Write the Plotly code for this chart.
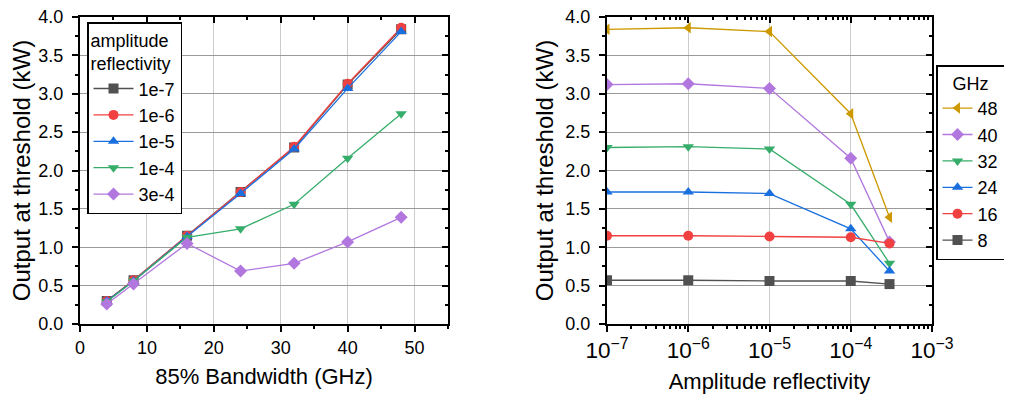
import plotly.graph_objects as go

# ---------------- data ----------------
bandwidth_ghz = [4, 8, 16, 24, 32, 40, 48]
reflectivity = [1e-7, 1e-6, 1e-5, 1e-4, 3e-4]
reflectivity_labels = ["1e-7", "1e-6", "1e-5", "1e-4", "3e-4"]

# output at threshold (kW) for each reflectivity vs bandwidth
out_r1e7 = [0.30, 0.57, 1.15, 1.72, 2.30, 3.12, 3.84]
out_r1e6 = [0.30, 0.57, 1.15, 1.72, 2.31, 3.13, 3.86]
out_r1e5 = [0.30, 0.56, 1.14, 1.70, 2.28, 3.07, 3.81]
out_r1e4 = [0.29, 0.56, 1.13, 1.24, 1.56, 2.16, 2.74]
out_r3e4 = [0.26, 0.52, 1.05, 0.69, 0.79, 1.07, 1.39]

left_series = [out_r1e7, out_r1e6, out_r1e5, out_r1e4, out_r3e4]
left_colors = ["#515151", "#F14040", "#1A6FDF", "#37AD6B", "#B177DE"]
left_symbols = ["square", "circle", "triangle-up", "triangle-down", "diamond"]

# right panel: one series per bandwidth (8..48 GHz), legend order 48 -> 8
right_ghz = [48, 40, 32, 24, 16, 8]
right_colors = ["#CC9900", "#B177DE", "#37AD6B", "#1A6FDF", "#F14040", "#515151"]
right_symbols = ["triangle-left", "diamond", "triangle-down", "triangle-up", "circle", "square"]

FONT = "Liberation Sans, Arial, sans-serif"
OFF = 8  # page body margin
W, H = 1012 - OFF, 397 - OFF


def px(x):
    return (x - OFF) / W


def py(y):
    return 1 - (y - OFF) / H


fig = go.Figure()

for lab, ys, col, sym in zip(reflectivity_labels, left_series, left_colors, left_symbols):
    fig.add_trace(go.Scatter(
        x=bandwidth_ghz, y=ys, mode="lines+markers", name=lab,
        line=dict(color=col, width=1.3),
        marker=dict(symbol=sym, size=10, color=col),
        xaxis="x", yaxis="y", legend="legend",
    ))

for g, col, sym in zip(right_ghz, right_colors, right_symbols):
    idx = bandwidth_ghz.index(g)
    ys = [s[idx] for s in left_series]
    fig.add_trace(go.Scatter(
        x=reflectivity, y=ys, mode="lines+markers", name=str(g),
        line=dict(color=col, width=1.3),
        marker=dict(symbol=sym, size=10, color=col),
        xaxis="x2", yaxis="y2", legend="legend2",
    ))

# dummy traces for mirror axes
fig.add_trace(go.Scatter(x=[None], y=[None], xaxis="x3", yaxis="y3", showlegend=False))
fig.add_trace(go.Scatter(x=[None], y=[None], xaxis="x4", yaxis="y4", showlegend=False))

dx1 = [px(80), px(448)]
dx2 = [px(607), px(932)]
dy = [py(324), py(17)]

tickfont = dict(family=FONT, size=18, color="black")
titlefont = dict(family=FONT, size=22, color="black")
ytitlefont = dict(family=FONT, size=24, color="black")
legfont = dict(family=FONT, size=18, color="black")

common_y = dict(
    domain=dy, range=[0, 4], dtick=0.5, tick0=0, tickformat=".1f",
    showline=True, linecolor="black", linewidth=2,
    ticks="outside", ticklen=6, tickwidth=2, tickcolor="black",
    minor=dict(ticks="outside", dtick=0.25, ticklen=3, tickwidth=1.5, tickcolor="black", showgrid=False),
    showgrid=True, gridcolor="#9a9a9a", gridwidth=1,
    zeroline=False, tickfont=tickfont, fixedrange=True,
    ticklabeloverflow="allow", ticklabelstandoff=5,
)

mirror_common = dict(
    showline=True, linecolor="black", linewidth=2,
    ticks="inside", ticklen=6, tickwidth=2, tickcolor="black",
    showticklabels=False, showgrid=False, zeroline=False,
)

fig.update_layout(
    width=W, height=H,
    margin=dict(l=0, r=0, t=0, b=0),
    paper_bgcolor="white", plot_bgcolor="white",
    font=dict(family=FONT, color="black"),
    xaxis=dict(
        domain=dx1, anchor="y", range=[0, 55], dtick=10, tick0=0,
        showline=True, linecolor="black", linewidth=2,
        ticks="outside", ticklen=6, tickwidth=2, tickcolor="black",
        minor=dict(ticks="outside", dtick=5, ticklen=3, tickwidth=1.5, tickcolor="black", showgrid=False),
        showgrid=True, gridcolor="#cccccc", gridwidth=1, zeroline=False,
        tickfont=tickfont, automargin=False, ticklabeloverflow="allow",
        title=dict(text="85% Bandwidth (GHz)", font=titlefont, standoff=12),
    ),
    yaxis=dict(anchor="x", automargin=False,
               title=dict(text="Output at threshold (kW)", font=ytitlefont, standoff=5),
               **common_y),
    xaxis2=dict(
        domain=dx2, anchor="y2", type="log", range=[-7, -3], dtick=1,
        exponentformat="power",
        showline=True, linecolor="black", linewidth=2,
        ticks="outside", ticklen=6, tickwidth=2, tickcolor="black",
        minor=dict(ticks="outside", dtick="D1", ticklen=3, tickwidth=1.5, tickcolor="black", showgrid=False),
        showgrid=True, gridcolor="#cccccc", gridwidth=1, zeroline=False,
        tickfont=tickfont, automargin=False, ticklabeloverflow="allow",
        title=dict(text="Amplitude reflectivity", font=titlefont, standoff=12),
    ),
    yaxis2=dict(anchor="x2", automargin=False,
                title=dict(text="Output at threshold (kW)", font=ytitlefont, standoff=5),
                **common_y),
    # mirror axes (top / right) with inward ticks
    xaxis3=dict(
        overlaying="x", anchor="y3", side="top", range=[0, 55], dtick=10, tick0=0,
        minor=dict(ticks="inside", dtick=5, ticklen=3, tickwidth=1.5, tickcolor="black"),
        **mirror_common,
    ),
    yaxis3=dict(
        overlaying="y", anchor="x3", side="right", range=[0, 4], dtick=0.5, tick0=0,
        minor=dict(ticks="inside", dtick=0.25, ticklen=3, tickwidth=1.5, tickcolor="black"),
        **mirror_common,
    ),
    xaxis4=dict(
        overlaying="x2", anchor="y4", side="top", type="log", range=[-7, -3], dtick=1,
        minor=dict(ticks="inside", dtick="D1", ticklen=3, tickwidth=1.5, tickcolor="black"),
        **mirror_common,
    ),
    yaxis4=dict(
        overlaying="y2", anchor="x4", side="right", range=[0, 4], dtick=0.5, tick0=0,
        minor=dict(ticks="inside", dtick=0.25, ticklen=3, tickwidth=1.5, tickcolor="black"),
        **mirror_common,
    ),
    legend=dict(
        x=px(87), y=py(22), xanchor="left", yanchor="top",
        bgcolor="white", bordercolor="black", borderwidth=1.5,
        font=legfont, itemwidth=40,
        title=dict(text="amplitude<br>reflectivity", side="top", font=legfont),
        tracegroupgap=0,
    ),
    legend2=dict(
        x=px(936), y=py(65), xanchor="left", yanchor="top",
        bgcolor="white", bordercolor="black", borderwidth=1.5,
        font=legfont,
        title=dict(text="GHz", side="top center", font=legfont),
        tracegroupgap=0,
    ),
    showlegend=True,
)

fig.write_html("out.html")
